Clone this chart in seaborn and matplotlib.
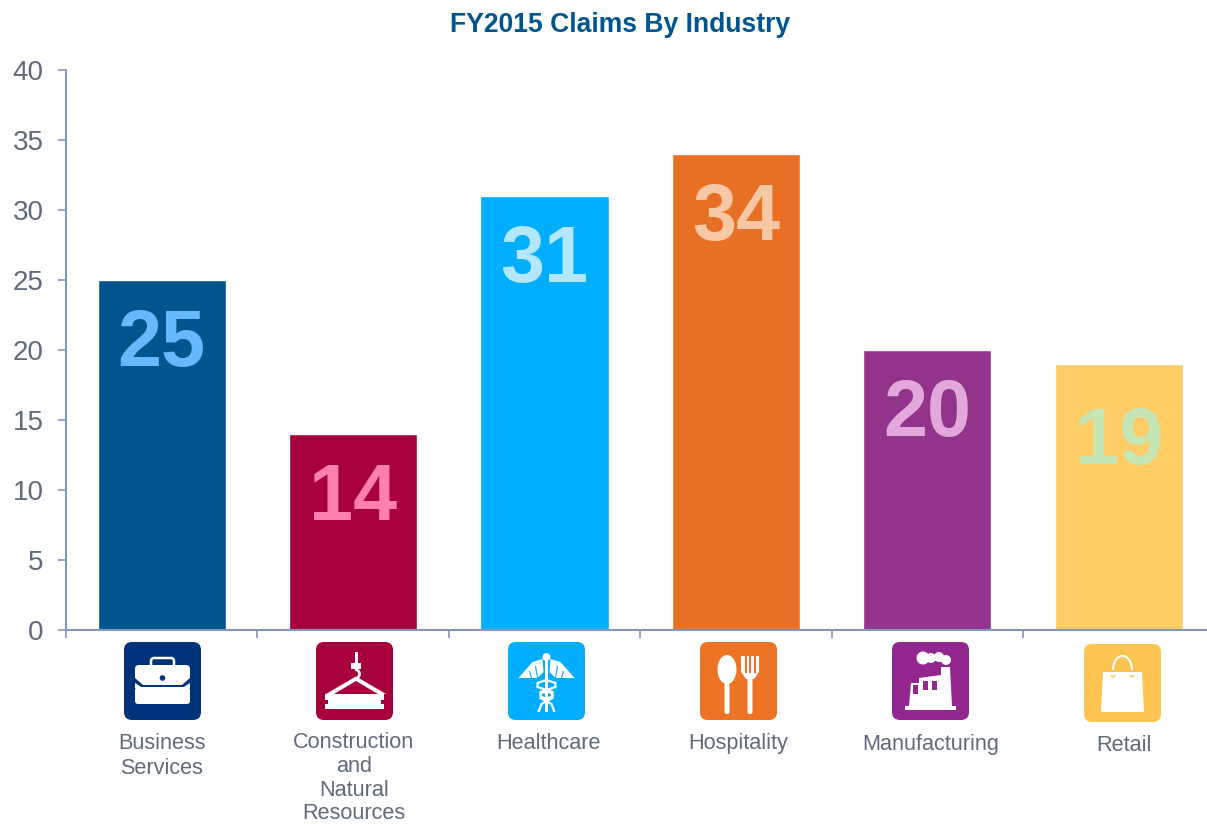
import numpy as np
import pandas as pd
import matplotlib
matplotlib.use("Agg")
import matplotlib.pyplot as plt
import seaborn as sns
from matplotlib.patches import Circle, Ellipse, FancyBboxPatch, Polygon, Rectangle, Arc

sns.set_style("white")
plt.rcParams['font.family'] = ['Liberation Sans', 'DejaVu Sans']

categories = ['Business Services', 'Construction and Natural Resources', 'Healthcare',
              'Hospitality', 'Manufacturing', 'Retail']
claims = [25, 14, 31, 34, 20, 19]
label_lines = [['Business', 'Services'], ['Construction', 'and', 'Natural', 'Resources'],
               ['Healthcare'], ['Hospitality'], ['Manufacturing'], ['Retail']]
y_ticks = [0, 5, 10, 15, 20, 25, 30, 35, 40]
title = 'FY2015 Claims By Industry'

bar_colors = ['#00558F', '#A8003C', '#00AEFF', '#E87025', '#93348C', '#FFCC66']
number_colors = ['#66B8FF', '#FF7FAF', '#B3E6FF', '#F8C8A6', '#E2A8DC', '#C6E6B6']
number_drop = [4.7, 4.7, 4.7, 4.7, 4.7, 5.7]
icon_colors = ['#00337A', '#A8003C', '#00AEFF', '#EC7424', '#93278F', '#FFC553']
icon_x = [124, 316, 508, 700, 892, 1084]
icon_y = [642, 642, 642, 642, 642, 644]
text_x = [162, 354, 548, 738, 931, 1124]
text_base = [749, 748, 749, 749, 750, 751]
text_pitch = [24.6, 23.8, 0, 0, 0, 0]

AXIS = '#8496BC'
TEXT = '#5F6B7A'
W, H = 1207, 824


def add(pic, x0, y0, patch):
    patch.set_transform(matplotlib.transforms.Affine2D().translate(x0, y0) + pic.transData)
    patch.set_clip_on(False)
    pic.add_patch(patch)


def briefcase(pic, x, y, c):
    add(pic, x, y, FancyBboxPatch((27, 16), 23, 9, boxstyle='round,pad=0,rounding_size=3', fc='none', ec='white', lw=1.8))
    add(pic, x, y, FancyBboxPatch((11, 23), 55, 14, boxstyle='round,pad=0,rounding_size=4', fc='white', ec='none'))
    add(pic, x, y, Polygon([(11, 33), (66, 33), (66, 36), (58, 43), (19, 43), (11, 36)], fc='white', ec='none'))
    add(pic, x, y, FancyBboxPatch((11, 45), 55, 17, boxstyle='round,pad=0,rounding_size=3', fc='white', ec='none'))
    add(pic, x, y, Polygon([(11, 41), (19, 46), (58, 46), (66, 41), (66, 46), (11, 46)], fc='white', ec='none'))
    add(pic, x, y, Circle((38.5, 36), 2.8, fc=c, ec='none'))


def crane(pic, x, y, c):
    add(pic, x, y, Rectangle((38.5, 10), 3, 11, fc='white', ec='none'))
    add(pic, x, y, Rectangle((35, 21), 10, 6, fc='white', ec='none'))
    add(pic, x, y, Arc((39, 32), 9, 9, theta1=270, theta2=90, ec='white', lw=2))
    add(pic, x, y, Polygon([(39, 35), (41, 35), (70, 52), (62, 52), (40, 39), (18, 52), (10, 52)], fc='white', ec='none'))
    add(pic, x, y, Rectangle((9, 52), 59, 6, fc='white', ec='none'))
    add(pic, x, y, Rectangle((12, 58), 53, 4, fc='white', ec='none'))
    add(pic, x, y, Rectangle((9, 62), 59, 5, fc='white', ec='none'))


def caduceus(pic, x, y, c):
    add(pic, x, y, Rectangle((37, 14), 3, 56, fc='white', ec='none'))
    add(pic, x, y, Circle((38.5, 15), 4, fc='white', ec='none'))
    for s in (-1, 1):
        wing = [(4, 17), (14, 20), (28, 36), (9, 36), (3, 30)]
        add(pic, x, y, Polygon([(38.5 + s * a, b) for a, b in wing], fc='white', ec='none'))
        for a, b in [(11, 24), (17, 29)]:
            add(pic, x, y, Polygon([(38.5 + s * a, b), (38.5 + s * (a - 2), 36)], closed=False, fc='none', ec=c, lw=0.8))
        line = [(0, 38), (9, 41), (9, 45), (-6, 50), (-6, 56), (5, 62), (8, 70)]
        add(pic, x, y, Polygon([(38.5 + s * a, b) for a, b in line], closed=False, fc='none', ec='white', lw=1.6))
    add(pic, x, y, Ellipse((38.5, 53), 12, 6, fc='none', ec='white', lw=1.5))


def cutlery(pic, x, y, c):
    add(pic, x, y, Ellipse((27, 27.5), 19, 29, fc='white', ec='none'))
    add(pic, x, y, FancyBboxPatch((24.5, 38), 5, 34, boxstyle='round,pad=0,rounding_size=2', fc='white', ec='none'))
    add(pic, x, y, FancyBboxPatch((47.5, 34), 5, 38, boxstyle='round,pad=0,rounding_size=2', fc='white', ec='none'))
    add(pic, x, y, Polygon([(41, 14), (59, 14), (59, 30), (54, 37), (46, 37), (41, 30)], fc='white', ec='none'))
    for a in (44.5, 49, 53.5):
        add(pic, x, y, Rectangle((a, 14), 2, 17, fc=c, ec='none'))


def factory(pic, x, y, c):
    for a, b, r in [(31, 16, 6.5), (39, 16, 5), (47, 15, 5), (54, 18, 5)]:
        add(pic, x, y, Circle((a, b), r, fc='white', ec='none'))
    add(pic, x, y, Polygon([(17, 64), (19, 41), (27, 41), (27, 36), (49, 33), (49, 25), (58, 25), (60, 64)], fc='white', ec='none'))
    add(pic, x, y, Rectangle((13, 64), 51, 4, fc='white', ec='none'))
    for a, b in [(21, 43), (31, 39), (40, 39)]:
        add(pic, x, y, Rectangle((a, b), 5, 8.5, fc=c, ec='none'))


def bag(pic, x, y, c):
    add(pic, x, y, Polygon([(19, 28), (58, 28), (60, 68), (17, 68)], fc='white', ec='none'))
    add(pic, x, y, Arc((38.5, 26), 19, 28, theta1=180, theta2=360, ec='white', lw=1.5))
    for a in (29, 48):
        add(pic, x, y, Arc((a, 31), 3.5, 3.5, theta1=0, theta2=180, ec=c, lw=1))


icon_funcs = [briefcase, crane, caduceus, cutlery, factory, bag]

df = pd.DataFrame({'category': categories, 'claims': claims})

fig = plt.figure(figsize=(W / 100, H / 100), dpi=100)
ax = fig.add_axes([66 / W, 1 - 630 / H, (W - 66) / W, 560 / H])
sns.barplot(data=df, x='category', y='claims', hue='category', palette=bar_colors,
            order=categories, hue_order=categories, dodge=False, width=0.669,
            saturation=1, legend=False, ax=ax)

step = 191.4
ax.set_yticks(y_ticks)
ax.set_xticks(np.arange(0, 6) - 0.5)
ax.set_xticklabels([])
ax.set_xlim(-0.5, (W - 66) / step - 0.5)
ax.set_ylim(0, 40)
ax.set_xlabel('')
ax.set_ylabel('')
ax.tick_params(axis='both', length=6, width=1.2, color=AXIS, left=True, bottom=True)
ax.tick_params(axis='y', labelsize=20, labelcolor=TEXT, pad=10)
for side in ['top', 'right']:
    ax.spines[side].set_visible(False)
for side in ['left', 'bottom']:
    ax.spines[side].set_color(AXIS)
    ax.spines[side].set_linewidth(1.5)
    ax.spines[side].set_zorder(5)

for i, v in enumerate(claims):
    ax.text(i, v - number_drop[i], str(v), ha='center', va='center', color=number_colors[i],
            fontsize=57, fontweight='bold')

# pixel overlay for the icons and the labels under them
pic = fig.add_axes([0, 0, 1, 1], facecolor='none')
pic.set_xlim(0, W)
pic.set_ylim(H, 0)
pic.axis('off')

for i, draw in enumerate(icon_funcs):
    add(pic, icon_x[i], icon_y[i], FancyBboxPatch((0, 0), 77, 78, boxstyle='round,pad=0,rounding_size=8',
                                                  fc=icon_colors[i], ec='none'))
    draw(pic, icon_x[i], icon_y[i], icon_colors[i])
    for j, line in enumerate(label_lines[i]):
        pic.text(text_x[i], text_base[i] + j * text_pitch[i], line, ha='center', va='baseline',
                 fontsize=15.6, color=TEXT)

pic.text(620.5, 25, title, ha='center', va='center', fontsize=19.1, fontweight='bold', color='#00558F')

plt.savefig('out.png', dpi=100)
